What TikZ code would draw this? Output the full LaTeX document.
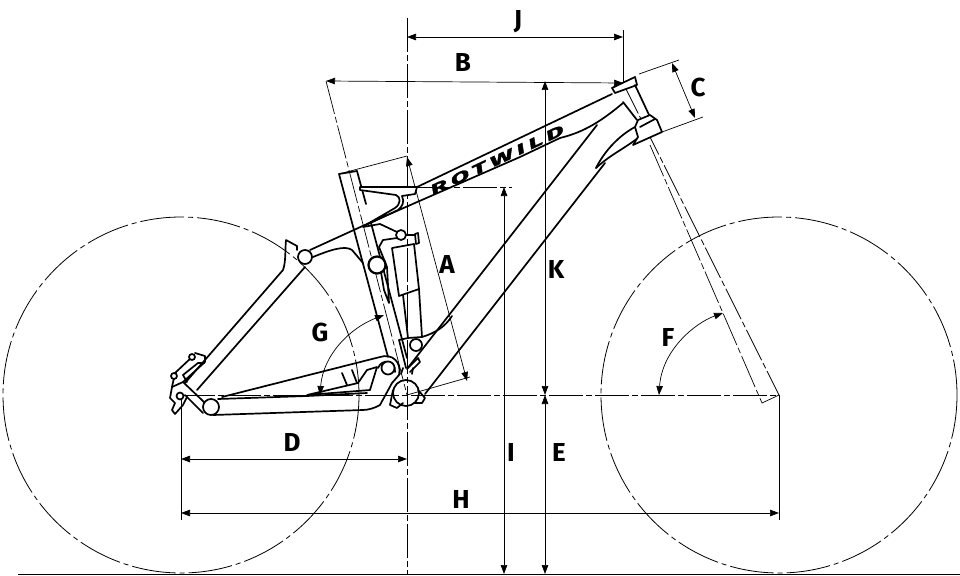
\documentclass[tikz,border=0pt]{standalone}
\usepackage{graphicx}
\usepackage{fontspec}
\setsansfont{Fira Sans}
\newfontfamily\logofont[LetterSpace=16,FakeBold=1.5]{Fira Sans}
\usetikzlibrary{arrows.meta}
\tikzset{frame/.style={line width=1.7pt, line join=round, line cap=round}}
\tikzset{pivot/.style={line width=1.7pt, fill=white}}
\tikzset{dim/.style={line width=0.7pt, <->}}
\tikzset{ext/.style={line width=0.7pt}}
\tikzset{axis/.style={line width=0.7pt, dash pattern=on 34pt off 3pt on 6pt off 3pt}}
\tikzset{wheel/.style={line width=0.8pt, dash pattern=on 44pt off 4pt on 5pt off 4pt}}
\tikzset{lbl/.style={font=\sffamily\bfseries\fontsize{26}{26}\selectfont, inner sep=0pt}}

\begin{document}
\begin{tikzpicture}[x=1pt,y=-1pt,>={Triangle[length=9pt,width=6.5pt]}]
  \useasboundingbox (0,0) rectangle (960,575);
  \fill [white] (0,0) rectangle (960,575);

  \coordinate (rear) at (181,395);
  \coordinate (front) at (779,395);
  \coordinate (bb) at (407,395);
  \coordinate (headtop) at (623,83);
  \coordinate (seattop) at (326,81);

  % wheels and ground
  \draw [wheel] (rear) circle [radius=178];
  \draw [wheel] (front) circle [radius=178];
  \draw [line width=0.9pt] (18,574) coordinate (g0) -- (960,574) coordinate (g1);

  % axes
  \draw [axis] (rear) -- (front);
  \draw [axis] (407,18) coordinate (vtop) -- (407,575) coordinate (vbot);
  \draw [axis] (seattop) -- (bb);
  \draw [axis] (headtop) -- (front);
  \draw [axis] (650,145) coordinate (forktop) -- (762,403) coordinate (forkend) -- (front);
  \draw [axis] (417,187) coordinate (reach) -- (512,187) coordinate (reachend);

  % extension lines
  \draw [ext] (623,30) coordinate (jtop) -- (headtop);
  \draw [ext] (rear) -- (181,520);
  \draw [ext] (front) -- (779,520);
  \draw [ext] (339,174) coordinate (st0) -- (407,156) coordinate (st1);
  \draw [ext] (bb) -- (470,377) coordinate (st2);
  \draw [ext] (639,74) -- (679,60);
  \draw [ext] (662,132) -- (703,117);

  % dimensions
  \draw [dim] (bb |- 0,37) coordinate (ja) -- (623,37) coordinate (jb);
  \draw [dim] (seattop) -- (headtop);
  \draw [dim] (545,81) coordinate (ka) -- (545,395) coordinate (kb);
  \draw [dim] (kb) -- (545,574) coordinate (eb);
  \draw [dim] (504,187) coordinate (ia) -- (504,574) coordinate (ib);
  \draw [dim] (181,459) coordinate (da) -- (407,459) coordinate (db);
  \draw [dim] (181,513) coordinate (ha) -- (779,513) coordinate (hb);
  \draw [dim] (407,157) coordinate (aa) -- (467,381) coordinate (ab);
  \draw [dim] (672,63) coordinate (ca) -- (695,118) coordinate (cb);
  \draw [dim] (723,313) coordinate (fa) .. controls (695,323) and (662,350) .. (659,395) coordinate (fb);
  \draw [dim] (384,315) coordinate (ga) .. controls (350,328) and (323,355) .. (320,395) coordinate (gb);

  % seat tube
  \draw [frame] (357,171) -- (339,174) -- (388,357);
  \draw [frame] (357,171) -- (366,204);
  \draw [frame] (371,223) -- (407,358);

  % top tube
  \draw [frame] (415,188) -- (612,94);
  \draw [frame] (310,250) -- (367,224) -- (520,157) -- (560,138) .. controls (580,133) and (597,125) .. (623,103);
  \node [rotate=25, inner sep=0pt] (logo) at (497,160)
    {\resizebox{146pt}{10pt}{\logofont\bfseries\itshape ROTWILD}};

  % seat clamp
  \draw [frame, fill=white] (360,187) -- (417,187) -- (415,194) -- (402,196)
    .. controls (405,202) and (402,207) .. (398,210) -- (364,226)
    -- (395,208) .. controls (401,204) and (401,197) .. (396,195) -- (360,190) -- cycle;

  % down tube and gusset
  \draw [frame] (597,125) -- (407,369);
  \draw [frame] (605,163) -- (425,394);
  \draw [frame] (596,168) .. controls (605,150) and (620,135) .. (635,127);
  \draw [frame] (596,168) .. controls (610,155) and (622,150) .. (638,138);

  % head tube
  \draw [frame, fill=white] (612,88) -- (635,77) -- (637,85) -- (615,93) -- cycle;
  \draw [frame] (635,85) -- (650,117);
  \draw [frame] (623,102) -- (637,120);
  \draw [frame, fill=white] (635,127) -- (638,120) -- (650,115) -- (657,120) -- (662,132) -- (633,145) -- (638,137) -- cycle;
  \draw [frame] (640,127) -- (655,119);

  % seat stay and upper arm
  \draw [frame] (185,383) -- (283,270) .. controls (286,262) and (285,250) .. (286,240)
    -- (297,246) -- (297,250);
  \draw [frame] (197,390) -- (305,267);
  \draw [frame] (313,257) .. controls (330,250) and (345,245) .. (352,250) -- (363,263);
  \draw [pivot] (305,257) coordinate (pa) circle [radius=7];
  \draw [line width=2.2pt, fill=white] (377,265) coordinate (pb) circle [radius=8.5];

  % rocker
  \draw [frame] (363,227) -- (380,224) -- (397,232);
  \draw [frame] (397,238) -- (383,240) -- (379,247) -- (387,267) -- (389,303) -- (384,290) -- (381,272);
  \draw [pivot] (401,235) coordinate (pc) circle [radius=5];

  % shock
  \draw [frame] (392,248) -- (414,244) -- (419,289) -- (399,296) -- cycle;
  \draw [frame] (403,295) -- (408,338);
  \draw [frame] (419,289) -- (422,337);
  \draw [frame] (406,235) -- (415,235);
  \draw [frame] (415,234) -- (418,233) -- (419,243) -- (416,244) -- cycle;
  \draw [frame] (399,340) -- (408,338) -- (422,337) .. controls (435,333) and (445,327) .. (452,316);
  \draw [frame] (399,340) -- (406,368);
  \draw [pivot] (416,345) coordinate (pd) circle [radius=6];
  \draw [frame] (408,368) -- (418,358) -- (420,362) -- (410,372);
  \draw [frame] (401,374) -- (403,368);
  \draw [frame] (412,374) -- (413,368);

  % bottom bracket
  \draw [frame] (393,390) -- (390,405) -- (397,408) -- (403,403);
  \draw [frame] (415,403) -- (422,403) -- (425,398) -- (418,390);
  \draw [line width=1.7pt] (bb) ++(-1,-2) circle [radius=13];

  % chain stay and link
  \draw [frame] (222,397) -- (380,357) .. controls (392,353) and (402,362) .. (399,375) -- (392,383) -- (380,405)
    .. controls (375,408) and (368,410) .. (363,410) -- (213,415);
  \draw [frame] (218,399) -- (307,396) -- (367,393);
  \draw [frame] (307,395) -- (358,383) -- (367,370) -- (377,367) -- (370,390) -- cycle;
  \draw [frame] (342,373) -- (347,385);
  \draw [frame] (352,370) -- (357,383);
  \draw [frame] (378,368) .. controls (382,358) and (396,360) .. (395,372);
  \draw [pivot] (388,368) coordinate (pe) circle [radius=6.5];

  % dropout
  \draw [frame] (195,353) -- (205,356) -- (205,362) -- (183,382) -- (172,387) -- (170,398)
    -- (175,403) -- (172,410) -- (175,414) -- (183,405) -- (187,397);
  \draw [frame] (192,357) -- (175,373) -- (172,387);
  \draw [frame] (183,375) -- (198,363) -- (204,363);
  \draw [frame] (183,375) -- (187,382);
  \draw [frame] (183,382) -- (205,403);
  \draw [frame] (185,395) -- (203,413);
  \draw [pivot] (192,357) coordinate (pf) circle [radius=3];
  \draw [pivot] (174,376) coordinate (pg) circle [radius=3];
  \draw [pivot] (180,396) coordinate (ph) circle [radius=3.5];
  \draw [pivot] (211,407) coordinate (pi) circle [radius=8];

  % labels
  \node [lbl] (lj) at (518,22) {J};
  \node [lbl] (lb) at (463,62) {B};
  \node [lbl] (lc) at (698,87) {C};
  \node [lbl] (la) at (447,264) {A};
  \node [lbl] (lk) at (556,269) {K};
  \node [lbl] (lg) at (320,332) {G};
  \node [lbl] (lf) at (668,337) {F};
  \node [lbl] (ld) at (292,442) {D};
  \node [lbl] (li) at (511,452) {I};
  \node [lbl] (le) at (559,452) {E};
  \node [lbl] (lh) at (461,499) {H};
\end{tikzpicture}
\end{document}
